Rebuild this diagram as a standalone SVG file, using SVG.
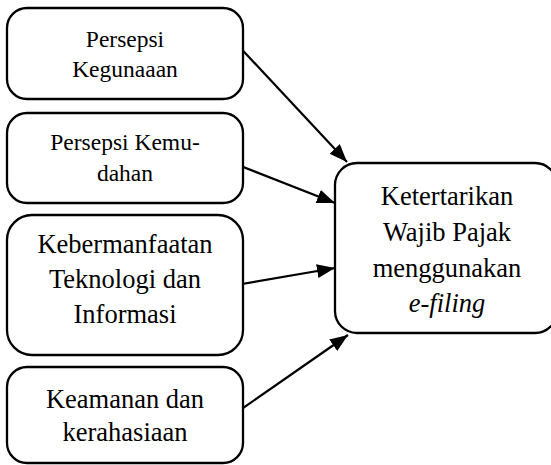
<svg xmlns="http://www.w3.org/2000/svg" width="551" height="465" viewBox="0 0 551 465">
<style>
.box{fill:#fff;stroke:#000;stroke-width:2.3}
.t{font-family:"Liberation Serif","Times New Roman",serif;fill:#000;text-anchor:middle}
.s{font-size:23.5px}
.l{font-size:26.5px}
.c{stroke:#000;stroke-width:2.2;fill:none}
</style>
<defs>
<marker id="ah" markerUnits="userSpaceOnUse" markerWidth="20" markerHeight="16" refX="18" refY="7" orient="auto">
<path d="M0,0 L18,7 L0,14 z" fill="#000"/>
</marker>
</defs>
<g id="connectors">
<line class="c" x1="233" y1="40" x2="347" y2="162" marker-end="url(#ah)"/>
<line class="c" x1="233" y1="163" x2="335" y2="203" marker-end="url(#ah)"/>
<line class="c" x1="224" y1="287" x2="335" y2="268" marker-end="url(#ah)"/>
<line class="c" x1="233" y1="415" x2="348" y2="335" marker-end="url(#ah)"/>
</g>
<g id="n1">
<rect class="box" x="7" y="8" width="236" height="91" rx="20"/>
<text class="t s" x="125" y="47">Persepsi</text>
<text class="t s" x="125" y="77">Kegunaaan</text>
</g>
<g id="n2">
<rect class="box" x="7" y="113" width="236" height="90" rx="20"/>
<text class="t s" x="125" y="150">Persepsi Kemu-</text>
<text class="t s" x="125" y="181">dahan</text>
</g>
<g id="n3">
<rect class="box" x="7" y="215" width="236" height="140" rx="25"/>
<text class="t l" x="125" y="253">Kebermanfaatan</text>
<text class="t l" x="125" y="288">Teknologi dan</text>
<text class="t l" x="125" y="323">Informasi</text>
</g>
<g id="n4">
<rect class="box" x="7" y="367" width="236" height="96" rx="20"/>
<text class="t l" x="125" y="408">Keamanan dan</text>
<text class="t l" x="125" y="441">kerahasiaan</text>
</g>
<g id="n5">
<rect class="box" x="335" y="163" width="222" height="170" rx="22"/>
<text class="t l" x="447" y="205">Ketertarikan</text>
<text class="t l" x="447" y="241">Wajib Pajak</text>
<text class="t l" x="447" y="277">menggunakan</text>
<text class="t l" x="447" y="312" font-style="italic">e-filing</text>
</g>
</svg>
